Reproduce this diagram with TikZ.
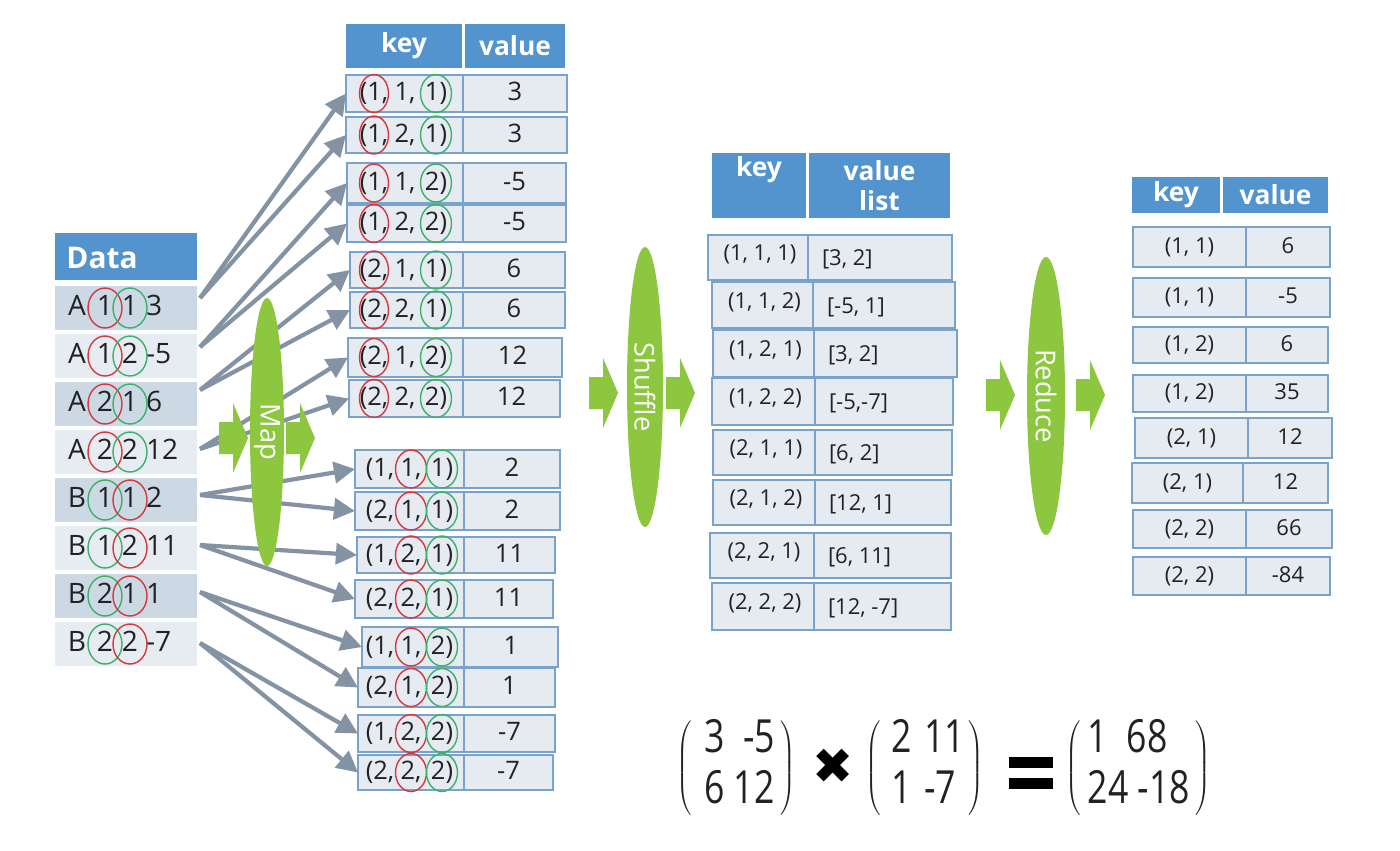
\documentclass[tikz,border=0pt]{standalone}
\usepackage{fontspec}
\setmainfont{Open Sans}
\newfontfamily\symbolfont{DejaVu Sans}
\newfontfamily\matrixfont{Open Sans}[FakeStretch=0.78]
\usetikzlibrary{arrows.meta,shapes.geometric}

\definecolor{headblue}{HTML}{5393CE}
\definecolor{cellfill}{HTML}{E5EBF1}
\definecolor{cellline}{HTML}{7AA3CC}
\definecolor{rowdark}{HTML}{CCD8E4}
\definecolor{rowlight}{HTML}{E6ECF2}
\definecolor{edgegray}{HTML}{8493A3}
\definecolor{stagegreen}{HTML}{8DC63F}
\definecolor{ringred}{HTML}{D33A3F}
\definecolor{ringgreen}{HTML}{3DB16A}
\definecolor{textdark}{HTML}{222222}

\tikzset{
  every node/.style={inner sep=0pt, outer sep=0pt},
  boxdim/.style 2 args={minimum width=(#1)*0.02cm, minimum height=(#2)*0.02cm},
  head/.style={fill=headblue, text=white, font=\fontsize{15}{17}\selectfont\bfseries},
  cell/.style={fill=cellfill, draw=cellline, line width=0.8pt, text=textdark},
  bigtext/.style={text=textdark, font=\fontsize{14.5}{17}\selectfont, text height=11pt, text depth=3pt},
  datatext/.style={text=textdark, font=\fontsize{16}{19}\selectfont, text height=12pt, text depth=3pt},
  smalltext/.style={text=textdark, font=\fontsize{12.5}{15}\selectfont, text height=9.5pt, text depth=2.5pt},
  ringline/.style={draw=#1, line width=0.8pt},
  mapedge/.style={draw=edgegray, line width=2.4pt, -{Triangle[length=12pt,width=12pt]}},
  stage/.style={ellipse, fill=stagegreen},
  stagelabel/.style={rotate=-90, text=white, font=\fontsize{15.5}{18}\selectfont},
  matrixtext/.style={text=textdark, font=\matrixfont\fontsize{26}{29}\selectfont},
}

% green block arrow, tip part starts at (#1,#2)
\newcommand{\stagearrow}[2]{%
  \fill[stagegreen, shift={(#1,#2)}] (-14,-16) -- (0,-16) -- (0,-35) -- (15,0)
    -- (0,35) -- (0,16) -- (-14,16) -- cycle;}

\begin{document}
\begin{tikzpicture}[x=0.02cm, y=-0.02cm]
  \useasboundingbox (0,0) rectangle (1400,850);
  \fill[white] (0,0) rectangle (1400,850);

  % Data table
  \node[head, boxdim={142}{47}] (datahead) at (126,256.5) {};
  \node[head, font=\fontsize{17}{19}\selectfont\bfseries] (datatitle) at (102,258) {Data};
  \foreach \m/\p/\q/\val/\rowfill/\ca/\cb [count=\i] in {
      A/1/1/3/rowdark/ringred/ringgreen, A/1/2/-5/rowlight/ringred/ringgreen,
      A/2/1/6/rowdark/ringred/ringgreen, A/2/2/12/rowlight/ringred/ringgreen,
      B/1/1/2/rowdark/ringgreen/ringred, B/1/2/11/rowlight/ringgreen/ringred,
      B/2/1/1/rowdark/ringgreen/ringred, B/2/2/-7/rowlight/ringgreen/ringred} {
    \pgfmathsetmacro{\yc}{308+48*(\i-1)}
    \node[fill=\rowfill, boxdim={142}{44}] (d\i) at (126,\yc) {};
    \node[datatext] (dm\i) at (77,\yc) {\m};
    \node[datatext] (dp\i) at (105,\yc) {\p};
    \node[datatext] (dq\i) at (130,\yc) {\q};
    \node[datatext, anchor=west] (dv\i) at (146,\yc) {\val};
    \draw[ringline=\ca] (dp\i) ellipse [x radius=0.34cm, y radius=0.4cm];
    \draw[ringline=\cb] (dq\i) ellipse [x radius=0.34cm, y radius=0.4cm];
  }

  % Map output, first half
  \node[head, boxdim={116}{44}] (keyhead) at (404,46) {key};
  \node[head, boxdim={100}{44}] (valuehead) at (515,46) {value};
  \foreach \xl/\yt/\xr/\yb/\ka/\kb/\kc/\val [count=\i] in {
      346/75/567/112/1/1/1/3, 346/117/567/153/1/2/1/3,
      347/163/566/203/1/1/2/-5, 347/205/566/242/1/2/2/-5,
      350/252/565/288/2/1/1/6, 350/292/565/328/2/2/1/6,
      348/338/562/377/2/1/2/12, 349/380/560/417/2/2/2/12} {
    \pgfmathsetmacro{\yc}{(\yt+\yb)/2}
    \node[cell, boxdim={463-\xl}{\yb-\yt}] (k\i) at ({(\xl+463)/2},\yc) {};
    \node[cell, bigtext, boxdim={\xr-463}{\yb-\yt}] (kv\i) at ({(463+\xr)/2},\yc) {\val};
    \node[bigtext] (ka\i) at (374,\yc) {(\ka,};
    \node[bigtext] (kb\i) at (405,\yc) {\kb,};
    \node[bigtext] (kc\i) at (436,\yc) {\kc)};
    \draw[ringline=ringred] (ka\i) ellipse [x radius=0.29cm, y radius=0.38cm];
    \draw[ringline=ringgreen] (kc\i) ellipse [x radius=0.31cm, y radius=0.38cm];
  }

  % Map output, second half
  \foreach \xl/\yt/\xr/\yb/\ka/\kb/\kc/\val [count=\i] in {
      355/450/560/488/1/1/1/2, 355/492/560/530/2/1/1/2,
      357/537/555/573/1/2/1/11, 355/580/553/618/2/2/1/11,
      362/627/558/667/1/1/2/1, 358/668/555/707/2/1/2/1,
      358/715/555/752/1/2/2/-7, 358/755/553/790/2/2/2/-7} {
    \pgfmathsetmacro{\yc}{(\yt+\yb)/2}
    \node[cell, boxdim={464-\xl}{\yb-\yt}] (b\i) at ({(\xl+464)/2},\yc) {};
    \node[cell, bigtext, boxdim={\xr-464}{\yb-\yt}] (bv\i) at ({(464+\xr)/2},\yc) {\val};
    \node[bigtext] (ba\i) at (380,\yc) {(\ka,};
    \node[bigtext] (bb\i) at (411,\yc) {\kb,};
    \node[bigtext] (bc\i) at (442,\yc) {\kc)};
    \draw[ringline=ringred] (bb\i) ellipse [x radius=0.31cm, y radius=0.38cm];
    \draw[ringline=ringgreen] (bc\i) ellipse [x radius=0.31cm, y radius=0.38cm];
  }

  % Shuffle output
  \node[head, boxdim={94}{65}, align=center] (skeyhead) at (759,185.5) {key\\\strut};
  \node[head, boxdim={141}{65}, align=center] (slisthead) at (879.5,185.5) {value\\list};
  \foreach \xl/\yt/\xd/\xr/\yb/\kname/\vals [count=\i] in {
      708/235/808/952/280/{(1, 1, 1)}/{[3, 2]}, 712/282/813/955/328/{(1, 1, 2)}/{[-5, 1]},
      713/330/814/957/377/{(1, 2, 1)}/{[3, 2]}, 712/378/815/953/425/{(1, 2, 2)}/{[-5,-7]},
      713/430/815/952/475/{(2, 1, 1)}/{[6, 2]}, 713/480/815/951/525/{(2, 1, 2)}/{[12, 1]},
      710/533/814/951/578/{(2, 2, 1)}/{[6, 11]}, 712/583/814/951/630/{(2, 2, 2)}/{[12, -7]}} {
    \pgfmathsetmacro{\yc}{(\yt+\yb)/2}
    \node[cell, boxdim={\xd-\xl}{\yb-\yt}] (s\i) at ({(\xl+\xd)/2},\yc) {};
    \node[cell, boxdim={\xr-\xd}{\yb-\yt}] (sv\i) at ({(\xd+\xr)/2},\yc) {};
    \node[smalltext] (sk\i) at ({(\xl+\xd)/2+2},\yc-3) {\kname};
    \node[smalltext, anchor=west] (sl\i) at (\xd+14,\yc+2) {\vals};
  }

  % Reduce output
  \node[head, boxdim={88}{36}] (rkeyhead) at (1176,195) {key};
  \node[head, boxdim={105}{36}] (rvalhead) at (1275.5,195) {value};
  \foreach \xl/\yt/\xd/\xr/\yb/\kname/\val [count=\i] in {
      1133/227/1246/1330/267/{(1, 1)}/6, 1133/278/1246/1330/317/{(1, 1)}/-5,
      1133/327/1246/1328/363/{(1, 2)}/6, 1133/375/1246/1328/412/{(1, 2)}/35,
      1135/418/1248/1332/458/{(2, 1)}/12, 1132/463/1243/1328/503/{(2, 1)}/12,
      1133/510/1246/1332/548/{(2, 2)}/66, 1133/557/1246/1330/595/{(2, 2)}/-84} {
    \pgfmathsetmacro{\yc}{(\yt+\yb)/2}
    \node[cell, smalltext, boxdim={\xd-\xl}{\yb-\yt}] (r\i) at ({(\xl+\xd)/2},\yc) {\kname};
    \node[cell, smalltext, boxdim={\xr-\xd}{\yb-\yt}] (rv\i) at ({(\xd+\xr)/2},\yc) {\val};
  }

  % Map arrows
  \foreach \i/\dy in {1/10,2/9,3/14,4/3,5/5,6/3,7/4,8/1}
    \coordinate (src\i) at ([xshift=0.06cm, yshift=\dy*0.02cm]d\i.east);
  \foreach \i in {1,...,4} {
    \pgfmathtruncatemacro{\ta}{2*\i-1}
    \pgfmathtruncatemacro{\tb}{2*\i}
    \pgfmathtruncatemacro{\j}{\i+4}
    \draw[mapedge] (src\i) -- (k\ta.west);
    \draw[mapedge] (src\i) -- (k\tb.west);
    \draw[mapedge] (src\j) -- (b\ta.west);
    \draw[mapedge] (src\j) -- (b\tb.west);
  }

  % Stages
  \node[stage, boxdim={34}{268}] (map) at (267,432) {};
  \node[stagelabel] (maplabel) at (map) {Map};
  \node[stage, boxdim={36}{280}] (shuffle) at (645,387) {};
  \node[stagelabel] (shufflelabel) at (shuffle) {Shuffle};
  \node[stage, boxdim={38}{278}] (reduce) at (1046,396) {};
  \node[stagelabel] (reducelabel) at (reduce) {Reduce};
  \stagearrow{233}{438} \stagearrow{300}{438}
  \stagearrow{603}{393} \stagearrow{680}{393}
  \stagearrow{1000}{395} \stagearrow{1090}{395}

  % Matrix product
  \node[matrixtext] (mleft) at (736,768)
    {$\left(\vcenter{\hbox{\begin{tabular}{@{\hspace{7pt}}l@{\hspace{3pt}}}3\ \ -5\\6 12\end{tabular}}}\right)$};
  \node[font=\symbolfont\fontsize{28}{30}\selectfont] (times) at (833,766) {✖};
  \node[matrixtext] (mright) at (925,768)
    {$\left(\vcenter{\hbox{\begin{tabular}{@{\hspace{6pt}}l@{\hspace{7pt}}l@{\hspace{2pt}}}2&11\\1&-7\end{tabular}}}\right)$};
  \fill (1009,757) rectangle (1053,768);
  \fill (1009,778) rectangle (1053,789);
  \node[matrixtext] (mresult) at (1138,768)
    {$\left(\vcenter{\hbox{\begin{tabular}{@{\hspace{4pt}}l@{\hspace{3pt}}}1\ \ 68\\24 -18\end{tabular}}}\right)$};
\end{tikzpicture}
\end{document}
